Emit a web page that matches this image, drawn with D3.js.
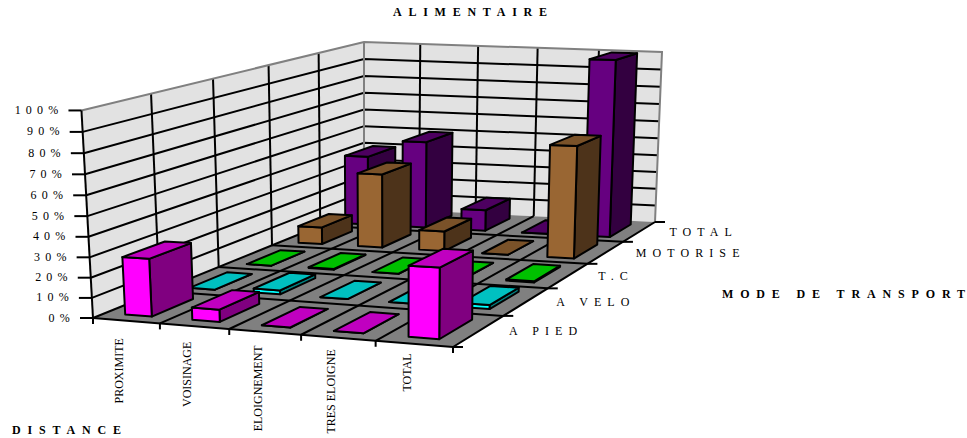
<!DOCTYPE html>
<html>
<head>
<meta charset="utf-8">
<script src="https://d3js.org/d3.v7.min.js"></script>
<style>
html, body { margin: 0; padding: 0; background: #fff; }
svg { display: block; }
text { font-family: "Liberation Serif", serif; fill: #000; }
</style>
</head>
<body>
<svg id="chart" width="967" height="438"></svg>
<script>
// Share of trips (%) by distance and transport mode
const categories = ["PROXIMITE", "VOISINAGE", "ELOIGNEMENT", "TRES ELOIGNE", "TOTAL"];
const seriesNames = ["A PIED", "A VELO", "T.C", "MOTORISE", "TOTAL"];
const aPied = [28.5, 6, 0, 0, 33];
const aVelo = [0, 2, 0, 0, 2];
const tc = [0, 0.4, 0, 0, 0.6];
const motorise = [9.5, 41, 11, 0, 61];
const total = [40, 50, 12, 0, 100];
const seriesValues = [aPied, aVelo, tc, motorise, total];
const percentTicks = [0, 10, 20, 30, 40, 50, 60, 70, 80, 90, 100];

// Face colours per series: front, top, side
const seriesColors = [
  ["#ff00ff", "#c000c0", "#800080"],
  ["#00ffff", "#00c0c0", "#008080"],
  ["#00ff00", "#00c000", "#008000"],
  ["#996633", "#7a5229", "#4d331a"],
  ["#660080", "#4d0060", "#330040"]
];

// Floor corners on screen for the unit square (u along distance, v along mode)
const floorCorners = [[93, 318], [453, 347], [655, 222], [364, 208]];
// Screen positions of three wall tops, used to fit the vertical direction
const wallTops = [{ c: 0, p: [81, 112] }, { c: 3, p: [364, 42] }, { c: 2, p: [662, 52] }];

function solve(A, b) {
  const n = b.length, M = A.map((r, i) => [...r, b[i]]);
  for (let i = 0; i < n; i++) {
    let p = i;
    for (let r = i + 1; r < n; r++) if (Math.abs(M[r][i]) > Math.abs(M[p][i])) p = r;
    [M[i], M[p]] = [M[p], M[i]];
    for (let r = 0; r < n; r++) {
      if (r === i) continue;
      const f = M[r][i] / M[i][i];
      for (let c = i; c <= n; c++) M[r][c] -= f * M[i][c];
    }
  }
  return M.map((r, i) => r[n] / r[i]);
}

const unit = [[0, 0], [1, 0], [1, 1], [0, 1]];
const A = [], B = [];
unit.forEach(([u, v], i) => {
  const [x, y] = floorCorners[i];
  A.push([u, v, 1, 0, 0, 0, -u * x, -v * x]); B.push(x);
  A.push([0, 0, 0, u, v, 1, -u * y, -v * y]); B.push(y);
});
const h = solve(A, B);

const floorHomog = (u, v) => [
  h[0] * u + h[1] * v + h[2],
  h[3] * u + h[4] * v + h[5],
  h[6] * u + h[7] * v + 1
];

// Least-squares fit of the homogeneous vertical vector
const rows = [], rhs = [];
wallTops.forEach(({ c, p: [X, Y] }) => {
  const [x0, y0, w0] = floorHomog(...unit[c]);
  rows.push([1, 0, -X]); rhs.push(X * w0 - x0);
  rows.push([0, 1, -Y]); rhs.push(Y * w0 - y0);
});
const ata = [0, 1, 2].map(i => [0, 1, 2].map(j => d3.sum(rows, r => r[i] * r[j])));
const atb = [0, 1, 2].map(i => d3.sum(rows, (r, n) => r[i] * rhs[n]));
const up = solve(ata, atb);

// Remaining wall-top error after the fit, spread across the back of the box
const raw = (c, t) => {
  const [x0, y0, w0] = floorHomog(...unit[c]);
  const w = w0 + up[2] * t;
  return [(x0 + up[0] * t) / w, (y0 + up[1] * t) / w];
};
const backLeftTrim = [364 - raw(3, 1)[0], 42 - raw(3, 1)[1]];
const backRightTrim = [662 - raw(2, 1)[0], 52 - raw(2, 1)[1]];

// Perspective projection of (u, v, height fraction) to screen
function project(u, v, t) {
  const [x0, y0, w0] = floorHomog(u, v);
  const w = w0 + up[2] * t;
  const dx = v * ((1 - u) * backLeftTrim[0] + u * backRightTrim[0]);
  const dy = v * ((1 - u) * backLeftTrim[1] + u * backRightTrim[1]);
  return [(x0 + up[0] * t) / w + dx * t, (y0 + up[1] * t) / w + dy * t];
}

const gridU = d3.scaleLinear().domain([0, categories.length]).range([0, 1]);
const gridV = d3.scaleLinear().domain([0, seriesNames.length]).range([0, 1]);
const zScale = d3.scaleLinear().domain([0, 100]).range([0, 1]);
const bandU = d3.scaleBand().domain(categories).range([0, 1]).paddingInner(0.6).paddingOuter(0.3);
const bandV = d3.scaleBand().domain(seriesNames).range([0, 1]).paddingInner(0.36).paddingOuter(0.18);

const svg = d3.select("#chart");
const line = d3.line();
const poly = pts => line(pts) + "Z";

// Walls
const walls = svg.append("g");
walls.append("path")
  .attr("d", poly([project(0, 0, 0), project(0, 1, 0), project(0, 1, 1), project(0, 0, 1)]))
  .attr("fill", "#e2e2e2");
walls.append("path")
  .attr("d", poly([project(0, 1, 0), project(1, 1, 0), project(1, 1, 1), project(0, 1, 1)]))
  .attr("fill", "#e2e2e2");

// Horizontal gridlines on both walls
percentTicks.slice(1, -1).forEach(p => {
  const t = zScale(p);
  walls.append("path")
    .attr("d", line([project(0, 0, t), project(0, 1, t), project(1, 1, t)]))
    .attr("fill", "none").attr("stroke", "#000").attr("stroke-width", 2);
});
// Vertical gridlines on both walls
d3.range(1, seriesNames.length).forEach(i => {
  const v = gridV(i);
  walls.append("path").attr("d", line([project(0, v, 0), project(0, v, 1)]))
    .attr("stroke", "#000").attr("stroke-width", 2);
});
d3.range(1, categories.length).forEach(i => {
  const u = gridU(i);
  walls.append("path").attr("d", line([project(u, 1, 0), project(u, 1, 1)]))
    .attr("stroke", "#000").attr("stroke-width", 2);
});
// Wall outline
walls.append("path")
  .attr("d", line([project(0, 0, 1), project(0, 1, 1), project(1, 1, 1), project(1, 1, 0)]))
  .attr("fill", "none").attr("stroke", "#808080").attr("stroke-width", 2);
walls.append("path").attr("d", line([project(0, 1, 0), project(0, 1, 1)]))
  .attr("stroke", "#808080").attr("stroke-width", 2);

// Floor with its grid
const floor = svg.append("g");
floor.append("path")
  .attr("d", poly([project(0, 0, 0), project(1, 0, 0), project(1, 1, 0), project(0, 1, 0)]))
  .attr("fill", "#808080");
d3.range(0, categories.length + 1).forEach(i => {
  const u = gridU(i);
  floor.append("path").attr("d", line([project(u, 0, 0), project(u, 1, 0)]))
    .attr("stroke", "#000").attr("stroke-width", 2);
});
d3.range(0, seriesNames.length).forEach(i => {
  const v = gridV(i);
  floor.append("path").attr("d", line([project(0, v, 0), project(1, v, 0)]))
    .attr("stroke", "#000").attr("stroke-width", 2);
});

// Vertical axis line and ticks
const axis = svg.append("g");
axis.append("path").attr("d", line([project(0, 0, 0), project(0, 0, 1)]))
  .attr("stroke", "#000").attr("stroke-width", 2);
percentTicks.forEach(p => {
  const [x, y] = project(0, 0, zScale(p));
  axis.append("path").attr("d", line([[x - 13, y], [x, y]])).attr("stroke", "#000").attr("stroke-width", 2);
  axis.append("text").attr("x", x - 18).attr("y", y + 3.5)
    .attr("text-anchor", "end").attr("font-size", 12).attr("letter-spacing", 5.2).text(p + "%");
});

// Ticks along the two floor edges
d3.range(0, categories.length + 1).forEach(i => {
  const [x, y] = project(gridU(i), 0, 0);
  axis.append("path").attr("d", line([[x, y], [x, y + 6]])).attr("stroke", "#000").attr("stroke-width", 2);
});
d3.range(0, seriesNames.length + 1).forEach(i => {
  const [x, y] = project(1, gridV(i), 0);
  axis.append("path").attr("d", line([[x, y], [x + 10, y]])).attr("stroke", "#000").attr("stroke-width", 2);
});

// Bars, painted from the back row forward and left to right
const barLayer = svg.append("g");
d3.range(seriesNames.length - 1, -1, -1).forEach(j => {
  const [front, top, side] = seriesColors[j];
  const v0 = bandV(seriesNames[j]), v1 = v0 + bandV.bandwidth();
  categories.forEach((c, i) => {
    const u0 = bandU(c), u1 = u0 + bandU.bandwidth();
    const t = zScale(seriesValues[j][i]);
    const g = barLayer.append("g").attr("stroke", "#000").attr("stroke-width", 2).attr("stroke-linejoin", "round");
    g.append("path").attr("fill", side)
      .attr("d", poly([project(u1, v0, 0), project(u1, v1, 0), project(u1, v1, t), project(u1, v0, t)]));
    g.append("path").attr("fill", front)
      .attr("d", poly([project(u0, v0, 0), project(u1, v0, 0), project(u1, v0, t), project(u0, v0, t)]));
    g.append("path").attr("fill", top)
      .attr("d", poly([project(u0, v0, t), project(u1, v0, t), project(u1, v1, t), project(u0, v1, t)]));
  });
});

// Category labels, read bottom to top
categories.forEach((c, i) => {
  const p = project(gridU(i + 0.5), 0, 0);
  svg.append("text").attr("font-size", 12)
    .attr("transform", `translate(${p[0] - 6},${p[1] + 17.5 - 2 * i}) rotate(-90)`)
    .attr("text-anchor", "end").attr("dy", 3).text(c);
});

// Mode labels beside the right floor edge
seriesNames.forEach((s, i) => {
  const [x, y] = project(1, gridV(i + 0.5), 0);
  svg.append("text").attr("x", x + 30).attr("y", y + 4)
    .attr("font-size", 12).attr("letter-spacing", 6.1).text(s);
});

// Titles, stretched to a set length
const bold = (x, y, s, len) => svg.append("text").attr("x", x).attr("y", y)
  .attr("font-size", 12).attr("font-weight", "bold")
  .attr("textLength", len).attr("lengthAdjust", "spacing").text(s);
bold(393, 16, "ALIMENTAIRE", 154);
bold(722, 298, "MODE DE TRANSPORT", 243);
bold(12, 434, "DISTANCE", 109);
</script>
</body>
</html>
